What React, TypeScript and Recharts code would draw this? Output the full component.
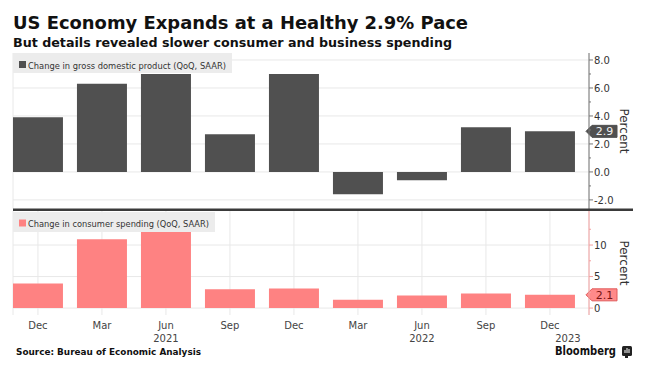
import { BarChart, Bar, XAxis, YAxis, CartesianGrid, ReferenceLine } from 'recharts';

// quarterly annualized % changes, Q4 2020 .. Q4 2022
const months = ['Dec', 'Mar', 'Jun', 'Sep', 'Dec', 'Mar', 'Jun', 'Sep', 'Dec'];
const years = ['', '', '2021', '', '', '', '2022', '', '2023'];
const gdp = [3.9, 6.3, 7.0, 2.7, 7.0, -1.6, -0.6, 3.2, 2.9];
const spending = [3.9, 10.9, 12.1, 3.0, 3.1, 1.3, 2.0, 2.3, 2.1];
const gdpTicks = [-2, -1, 0, 1, 2, 3, 4, 5, 6, 7, 8];
const spendTicks = [0, 2.5, 5, 7.5, 10, 12.5];

const FONT = '"DejaVu Sans", sans-serif';
const DARK = '#505050';
const PINK = '#fe8282';

const chartData = months.map((m, i) => ({ idx: i, month: m, year: years[i], gdp: gdp[i], spending: spending[i] }));
const xTicks = chartData.map(d => d.idx);
const X_DOMAIN: [number, number] = [-0.39, 8.61];

const AxisTick = ({ x, y, payload, step, color, digits }: any) => {
  const major = payload.value % step === 0;
  return (
    <g>
      <line x1={x - 5} x2={x - 5 + (major ? 4 : 2)} y1={y} y2={y} stroke={color} />
      {major && (
        <text x={x} y={y} dy={3.6} fontSize={10} fontFamily={FONT} fill="#333">
          {payload.value.toFixed(digits)}
        </text>
      )}
    </g>
  );
};

const MonthTick = ({ x, y, payload }: any) => {
  const i = payload.value;
  const last = i === months.length - 1;
  return (
    <g fontFamily={FONT} fontSize={10} fill="#444" textAnchor="middle">
      <text x={x} y={y + 14}>{months[i]}</text>
      {years[i] && <text x={last ? x + 18 : x} y={y + 27}>{years[i]}</text>}
    </g>
  );
};

const PercentLabel = ({ viewBox }: any) => {
  const x = viewBox.x + 31;
  const y = viewBox.y + viewBox.height / 2;
  return (
    <text x={x} y={y} transform={`rotate(90, ${x}, ${y})`} textAnchor="middle" fontSize={12} fontFamily={FONT} fill="#333">
      Percent
    </text>
  );
};

const ValueTag = ({ viewBox, text, fill, stroke, color }: any) => {
  const x = viewBox.x + viewBox.width;
  const y = viewBox.y;
  const pts = `${x - 3},${y} ${x + 3},${y - 6} ${x + 28},${y - 6} ${x + 28},${y + 6} ${x + 3},${y + 6}`;
  return (
    <g>
      <polygon points={pts} fill={fill} stroke={stroke} />
      <text x={x + 15.5} y={y + 4} textAnchor="middle" fontSize={11} fontFamily={FONT} fill={color}>{text}</text>
    </g>
  );
};

export default function App() {
  return (
    <div style={{ position: 'absolute', left: 0, top: 0, width: 646, height: 389, background: '#fff', overflow: 'hidden' }}>
      <div style={{ position: 'absolute', left: 0, top: 0 }}>
        <BarChart width={646} height={215} data={chartData} margin={{ top: 53, right: 12, bottom: 6, left: 13 }}>
          <CartesianGrid stroke="#e8e8e8" horizontalValues={[-2, 0, 2, 4, 6, 8]} />
          <XAxis dataKey="idx" type="number" domain={X_DOMAIN} ticks={xTicks} allowDataOverflow height={0} tick={false} axisLine={false} tickLine={false} />
          <YAxis
            orientation="right"
            width={45}
            domain={[-2.65, 8.5]}
            allowDataOverflow
            ticks={gdpTicks}
            interval={0}
            axisLine={{ stroke: '#777' }}
            tickLine={false}
            tickSize={4}
            tickMargin={1}
            tick={<AxisTick step={2} color="#777" digits={1} />}
            label={<PercentLabel />}
          />
          <Bar dataKey="gdp" fill={DARK} barSize={50} isAnimationActive={false} />
          <ReferenceLine y={gdp[gdp.length - 1]} stroke="none" label={<ValueTag text="2.9" fill={DARK} stroke={DARK} color="#f2f2f2" />} />
        </BarChart>
      </div>
      <div style={{ position: 'absolute', left: 0, top: 0 }}>
        <BarChart width={646} height={389} data={chartData} margin={{ top: 211, right: 12, bottom: 44, left: 13 }}>
          <CartesianGrid stroke="#e8e8e8" horizontalValues={[0, 5, 10]} />
          <XAxis
            dataKey="idx"
            type="number"
            domain={X_DOMAIN}
            ticks={xTicks}
            allowDataOverflow
            interval={0}
            height={30}
            axisLine={false}
            tickLine={false}
            tickSize={0}
            tickMargin={0}
            tick={<MonthTick />}
          />
          <YAxis
            orientation="right"
            width={45}
            domain={[-1.1, 15.4]}
            allowDataOverflow
            ticks={spendTicks}
            interval={0}
            axisLine={{ stroke: '#f4a0a0' }}
            tickLine={false}
            tickSize={4}
            tickMargin={1}
            tick={<AxisTick step={5} color="#f4a0a0" digits={0} />}
            label={<PercentLabel />}
          />
          <Bar dataKey="spending" fill={PINK} barSize={50} isAnimationActive={false} />
          <ReferenceLine y={spending[spending.length - 1]} stroke="none" label={<ValueTag text="2.1" fill="#ff8a8a" stroke="#e05a5a" color="#7a1414" />} />
        </BarChart>
      </div>
      <svg width={646} height={389} style={{ position: 'absolute', left: 0, top: 0 }} fontFamily={FONT}>
        <text x={13} y={29} fontSize={18} fontWeight="bold" fill="#111" textLength={455} lengthAdjust="spacingAndGlyphs">
          US Economy Expands at a Healthy 2.9% Pace
        </text>
        <text x={13} y={47} fontSize={12.5} fontWeight="bold" fill="#111" textLength={439} lengthAdjust="spacingAndGlyphs">
          But details revealed slower consumer and business spending
        </text>

        <rect x={13} y={53} width={219} height={20} fill="#ececec" />
        <rect x={19} y={61} width={7} height={7} fill={DARK} />
        <text x={28} y={68.5} fontSize={9} fill="#333" textLength={198} lengthAdjust="spacingAndGlyphs">
          Change in gross domestic product (QoQ, SAAR)
        </text>

        <rect x={13} y={212} width={202} height={20} fill="#ececec" />
        <rect x={19} y={219.5} width={7} height={7} fill={PINK} />
        <text x={28} y={227} fontSize={9} fill="#333" textLength={181} lengthAdjust="spacingAndGlyphs">
          Change in consumer spending (QoQ, SAAR)
        </text>

        <line x1={13} x2={633} y1={209.8} y2={209.8} stroke="#3a3a3a" strokeWidth={2.5} />

        <text x={16} y={355} fontSize={8.5} fontWeight="bold" fill="#111" textLength={185} lengthAdjust="spacingAndGlyphs">
          Source: Bureau of Economic Analysis
        </text>
        <text x={555} y={355} fontSize={11.5} fontWeight="bold" fill="#111" textLength={61} lengthAdjust="spacingAndGlyphs">
          Bloomberg
        </text>
        <rect x={622} y={346} width={10} height={10} rx={1.5} fill="#222" />
        <line x1={625} x2={625} y1={353} y2={350} stroke="#fff" strokeWidth={1} />
        <line x1={627} x2={627} y1={353} y2={348} stroke="#fff" strokeWidth={1} />
        <line x1={629} x2={629} y1={353} y2={349} stroke="#fff" strokeWidth={1} />
        <rect x={625} y={356} width={3} height={2} fill="#222" />
      </svg>
    </div>
  );
}
